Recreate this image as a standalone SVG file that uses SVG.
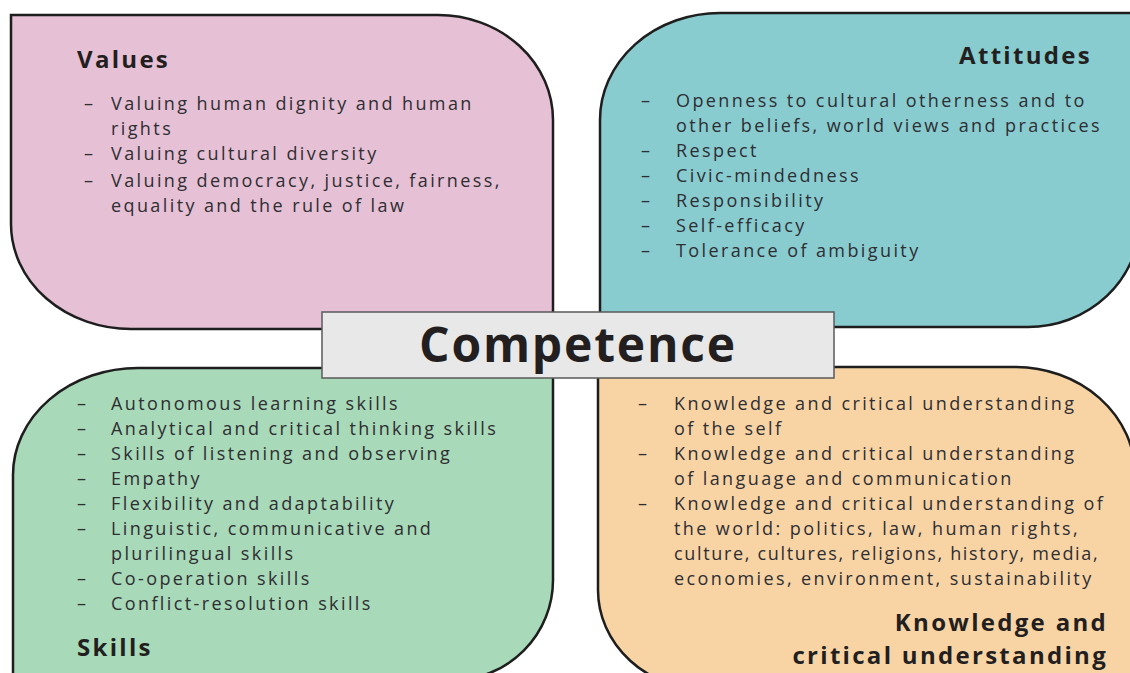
<svg xmlns="http://www.w3.org/2000/svg" width="1130" height="673" viewBox="0 0 1130 673">
<style>
.panel{stroke:#1e1e1e;stroke-width:2.5}
.t{font-family:"Open Sans",Lato,"Liberation Sans",sans-serif;font-size:18px;letter-spacing:2.4px;fill:#2e2e33}
.h{font-family:"Open Sans",Lato,"Liberation Sans",sans-serif;font-size:24px;font-weight:bold;letter-spacing:2.3px;fill:#231f20}
.c{font-family:"Open Sans",Lato,"Liberation Sans",sans-serif;font-size:48px;font-weight:bold;letter-spacing:1.8px;fill:#231f20}
</style>
<rect width="1130" height="673" fill="#ffffff"/>
<g id="values">
<path class="panel" fill="#e6c0d4" d="M11,15 H438 A115,105 0 0 1 553,120 V329 H131 A120,105 0 0 1 11,224 Z"/>
<text class="h" x="77" y="68">Values</text>
<g class="t">
<text x="84" y="110">–</text><text x="111" y="110">Valuing human dignity and human</text>
<text x="111" y="135">rights</text>
<text x="84" y="160">–</text><text x="111" y="160">Valuing cultural diversity</text>
<text x="84" y="187">–</text><text x="111" y="187">Valuing democracy, justice, fairness,</text>
<text x="111" y="212">equality and the rule of law</text>
</g>
</g>
<g id="attitudes">
<path class="panel" fill="#88ccd0" d="M600,120 A120,107 0 0 1 720,13 H1140 V220 A112,107 0 0 1 1028,327 H600 Z"/>
<text class="h" x="1092" y="64" text-anchor="end">Attitudes</text>
<g class="t">
<text x="641" y="107">–</text><text x="676" y="107">Openness to cultural otherness and to</text>
<text x="676" y="132">other beliefs, world views and practices</text>
<text x="641" y="157">–</text><text x="676" y="157">Respect</text>
<text x="641" y="182">–</text><text x="676" y="182">Civic-mindedness</text>
<text x="641" y="207">–</text><text x="676" y="207">Responsibility</text>
<text x="641" y="232">–</text><text x="676" y="232">Self-efficacy</text>
<text x="641" y="257">–</text><text x="676" y="257">Tolerance of ambiguity</text>
</g>
</g>
<g id="skills">
<path class="panel" fill="#a8d9b8" d="M13,475 A125,107 0 0 1 138,368 H553 V580 A100,100 0 0 1 453,680 H13 Z"/>
<g class="t">
<text x="77" y="410">–</text><text x="111" y="410">Autonomous learning skills</text>
<text x="77" y="435">–</text><text x="111" y="435">Analytical and critical thinking skills</text>
<text x="77" y="460">–</text><text x="111" y="460">Skills of listening and observing</text>
<text x="77" y="485">–</text><text x="111" y="485">Empathy</text>
<text x="77" y="510">–</text><text x="111" y="510">Flexibility and adaptability</text>
<text x="77" y="535">–</text><text x="111" y="535">Linguistic, communicative and</text>
<text x="111" y="560">plurilingual skills</text>
<text x="77" y="585">–</text><text x="111" y="585">Co-operation skills</text>
<text x="77" y="610">–</text><text x="111" y="610">Conflict-resolution skills</text>
</g>
<text class="h" x="77" y="656">Skills</text>
</g>
<g id="knowledge">
<path class="panel" fill="#f8d4a5" d="M598,367 H1015 A120,107 0 0 1 1135,474 V690 H708 A110,100 0 0 1 598,590 Z"/>
<g class="t">
<text x="638" y="410">–</text><text x="674" y="410">Knowledge and critical understanding</text>
<text x="674" y="435">of the self</text>
<text x="638" y="460">–</text><text x="674" y="460">Knowledge and critical understanding</text>
<text x="674" y="485">of language and communication</text>
<text x="638" y="510">–</text><text x="674" y="510">Knowledge and critical understanding of</text>
<text x="674" y="535">the world: politics, law, human rights,</text>
<text x="674" y="560" textLength="426" lengthAdjust="spacing">culture, cultures, religions, history, media,</text>
<text x="674" y="585">economies, environment, sustainability</text>
</g>
<text class="h" x="1108" y="631" text-anchor="end">Knowledge and</text>
<text class="h" x="1108" y="664" text-anchor="end">critical understanding</text>
</g>
<g id="competence">
<rect x="322" y="312" width="512" height="66" fill="#e8e8e8" stroke="#5a5a5a" stroke-width="1.5"/>
<text class="c" x="578" y="362" text-anchor="middle">Competence</text>
</g>
</svg>
